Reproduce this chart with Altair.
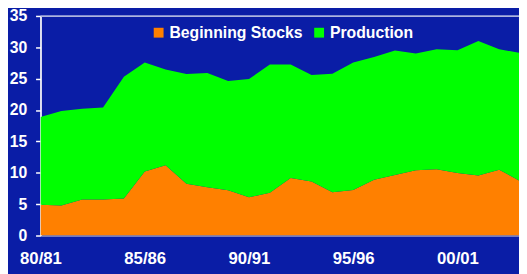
import altair as alt
import pandas as pd

seasons = ["80/81", "81/82", "82/83", "83/84", "84/85", "85/86", "86/87", "87/88",
           "88/89", "89/90", "90/91", "91/92", "92/93", "93/94", "94/95", "95/96",
           "96/97", "97/98", "98/99", "99/00", "00/01", "01/02", "02/03", "03/04"]
stocks = [4.9, 4.8, 5.75, 5.75, 5.9, 10.2, 11.2, 8.25, 7.7, 7.2, 6.1, 6.8,
          9.15, 8.6, 6.9, 7.25, 8.9, 9.65, 10.4, 10.55, 9.95, 9.55, 10.5, 8.7]
production = [14.0, 15.05, 14.45, 14.65, 19.4, 17.4, 15.25, 17.5, 18.2, 17.45, 18.85, 20.45,
              18.1, 17.0, 18.9, 20.35, 19.55, 19.85, 18.6, 19.15, 19.6, 21.45, 19.2, 20.4]
series_names = ["Beginning Stocks", "Production"]
series_colors = ["#FF8000", "#00FF00"]
tick_idx = [0, 5, 10, 15, 20]
y_ticks = [0, 5, 10, 15, 20, 25, 30, 35]

rows = []
for i, s in enumerate(seasons):
    rows.append({"i": i, "season": s, "series": series_names[0], "k": 0, "v": stocks[i]})
    rows.append({"i": i, "season": s, "series": series_names[1], "k": 1, "v": production[i]})
df = pd.DataFrame(rows)

label_expr = "[" + ",".join(f"'{s}'" for s in seasons) + "][datum.value]"
FONT = "Liberation Sans"

y_axis = alt.Axis(values=y_ticks, title=None, grid=False,
                  domainColor="white", domainWidth=1.5, tickColor="white",
                  tickSize=5, tickWidth=1.5, labelPadding=9, labelFontSize=16,
                  labelFontWeight="bold", labelColor="white", labelFont=FONT,
                  labelOverlap=False, labelFlush=False)
y_scale = alt.Scale(domain=[0, 35], nice=False)

area = alt.Chart(df).mark_area(clip=True, opacity=1).encode(
    x=alt.X("i:Q",
            scale=alt.Scale(domain=[0, 22.95], nice=False, zero=False),
            axis=alt.Axis(values=tick_idx, labelExpr=label_expr, title=None, domain=False,
                          ticks=False, grid=False, labelPadding=15, labelFontSize=17,
                          labelFontWeight="bold", labelColor="white", labelFlush=False,
                          labelOverlap=False, labelFont=FONT)),
    y=alt.Y("v:Q", stack="zero", scale=y_scale, axis=y_axis),
    color=alt.Color("series:N",
                    scale=alt.Scale(domain=series_names, range=series_colors),
                    legend=alt.Legend(orient="none", legendX=112, legendY=9,
                                      direction="horizontal", title=None,
                                      symbolType="square", symbolSize=100,
                                      symbolStrokeWidth=0, labelFontSize=16,
                                      labelFontWeight="bold", labelColor="white",
                                      labelFont=FONT, columnPadding=8, labelOffset=3,
                                      padding=0)),
    order=alt.Order("k:Q"),
)

top_rule = alt.Chart(pd.DataFrame({"top": [35]})).mark_rule(
    color="#A3ACDF", strokeWidth=1.5
).encode(y=alt.Y("top:Q", scale=y_scale, axis=y_axis))

chart = alt.layer(area, top_rule).properties(
    width=486, height=223,
    autosize="none",
    padding={"left": 33, "top": 6, "right": 0, "bottom": 37},
    background="#0A1DA6",
).configure_view(stroke=None).configure(font=FONT)

chart.save("out.html", embed_options={"renderer": "svg", "actions": False})
